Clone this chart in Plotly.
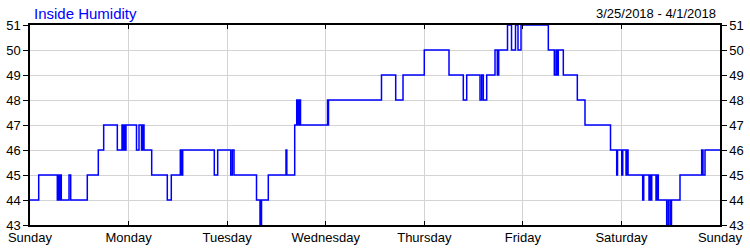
import plotly.graph_objects as go

# hours since Sunday 3/25/2018 00:00 at which the reading changes
hours_since_start = [
    0, 2.12, 6.65, 6.94, 7.18, 7.43, 7.62, 9.50, 9.91, 13.95, 16.63, 17.94,
    21.26, 22.40, 22.64, 22.89, 23.13, 23.37, 25.93, 26.54, 27.15, 27.39, 27.76,
    29.63, 33.43, 34.40, 36.60, 36.89, 37.18, 44.87, 45.70, 48.87, 49.26, 49.67,
    55.15, 56.00, 56.37, 58.02, 62.33, 62.53, 64.45, 64.94, 65.25, 65.50, 65.86,
    72.44, 72.56, 72.68, 85.58, 89.04, 90.82, 96.00, 102.02, 105.50, 106.33,
    109.57, 109.98, 110.37, 111.20, 113.22, 113.78, 114.12, 116.26, 117.24,
    118.21, 118.82, 119.55, 126.20, 127.66, 128.07, 128.32, 128.63, 129.85,
    133.26, 135.13, 141.34, 142.85, 143.05, 144.07, 144.32, 145.12, 145.36,
    145.61, 149.18, 149.43, 150.72, 150.96, 151.20, 151.38, 152.42, 152.67,
    152.98, 155.02, 155.41, 155.83, 156.19, 158.26, 163.54, 163.86, 164.35, 168,
]
humidity = [
    44, 45, 44, 45, 44, 45, 44, 45, 44, 45, 46, 47,
    46, 47, 46, 47, 46, 47, 46, 47, 46, 47, 46,
    45, 44, 45, 46, 45, 46, 45, 46, 45, 46, 45,
    44, 43, 44, 45, 46, 45, 47, 48, 47, 48, 47,
    48, 47, 48, 49, 48, 49, 50, 49, 48, 49,
    48, 49, 48, 49, 50, 49, 50, 51, 50,
    51, 50, 51, 50, 49, 50, 49, 50, 49,
    48, 47, 46, 45, 46, 45, 46, 45, 46,
    45, 44, 45, 44, 45, 44, 45, 44, 45,
    44, 43, 44, 43, 44, 45, 46, 45, 46, 46,
]

day_ticks = [0, 24, 48, 72, 96, 120, 144, 168]
day_labels = ["Sunday", "Monday", "Tuesday", "Wednesday", "Thursday",
              "Friday", "Saturday", "Sunday"]
y_ticks = [43, 44, 45, 46, 47, 48, 49, 50, 51]

title_text = "Inside Humidity"
date_range_text = "3/25/2018 - 4/1/2018"

FONT = "Liberation Sans, Arial, sans-serif"

fig = go.Figure()
fig.add_trace(go.Scatter(
    x=hours_since_start, y=humidity, mode="lines",
    line=dict(color="#0000ff", width=1.5, shape="hv"),
    showlegend=False, hoverinfo="skip",
))
fig.add_trace(go.Scatter(x=[None], y=[None], yaxis="y2", showlegend=False))

fig.update_layout(
    width=750, height=250,
    margin=dict(l=30, r=30, t=25, b=25, autoexpand=False),
    paper_bgcolor="white", plot_bgcolor="white",
    font=dict(family=FONT, size=13, color="black"),
    xaxis=dict(
        range=[0, 168], tickvals=day_ticks, ticktext=day_labels,
        showgrid=True, gridcolor="#d3d3d3", gridwidth=1,
        showline=True, linecolor="black", linewidth=1.5, mirror="ticks",
        ticks="inside", ticklen=4, tickcolor="black",
        tickfont=dict(size=13), zeroline=False, automargin=False,
    ),
    yaxis=dict(
        range=[43, 51], tickvals=y_ticks,
        showgrid=True, gridcolor="#d3d3d3", gridwidth=1,
        showline=True, linecolor="black", linewidth=1.5,
        ticks="outside", ticklen=5, tickcolor="black",
        tickfont=dict(size=13), zeroline=False, automargin=False,
    ),
    yaxis2=dict(
        range=[43, 51], tickvals=y_ticks, overlaying="y", side="right",
        showgrid=False, showline=True, linecolor="black", linewidth=1.5,
        ticks="outside", ticklen=5, tickcolor="black",
        tickfont=dict(size=13), zeroline=False, automargin=False,
    ),
    annotations=[
        dict(text=title_text, xref="paper", yref="paper", x=0, y=1,
             xanchor="left", yanchor="bottom", xshift=2, yshift=1,
             showarrow=False, font=dict(family=FONT, size=15, color="#0000ff")),
        dict(text=date_range_text, xref="paper", yref="paper", x=1, y=1,
             xanchor="right", yanchor="bottom", xshift=-2, yshift=2,
             showarrow=False, font=dict(family=FONT, size=13, color="black")),
    ],
)

fig.write_html("out.html")
